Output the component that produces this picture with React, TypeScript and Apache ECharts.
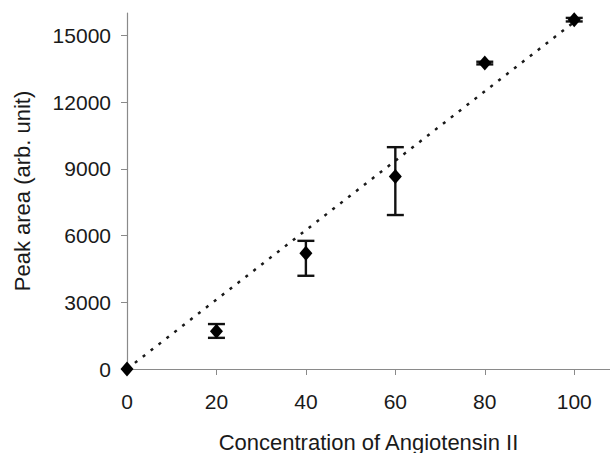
import React, { useEffect, useRef } from "react";
import * as echarts from "echarts";

const concentrations = [0, 20, 40, 60, 80, 100];
const peakAreas = [0, 1700, 5200, 8650, 13750, 15700];
const errLow = [0, 1400, 4190, 6920, 13690, 15620];
const errHigh = [0, 2020, 5760, 9970, 13810, 15780];
const trendX = [0, 100];
const trendY = [0, 15600];
const xTicks = [0, 20, 40, 60, 80, 100];
const yTicks = [0, 3000, 6000, 9000, 12000, 15000];

const FONT = "'Liberation Sans', Arial, sans-serif";

export default function App() {
  const ref = useRef<HTMLDivElement>(null);
  useEffect(() => {
    if (!ref.current) return;
    const chart = echarts.init(ref.current, undefined, { renderer: "svg" });
    const errData = concentrations
      .map((x, i) => [x, errLow[i], errHigh[i]])
      .filter((d) => d[2] - d[1] > 0);
    chart.setOption({
      animation: false,
      backgroundColor: "#ffffff",
      grid: {
        left: 127,
        right: 0,
        top: 13,
        bottom: 84,
        containLabel: false,
        outerBoundsMode: "none",
      },
      xAxis: {
        type: "value",
        min: 0,
        max: 108,
        name: "Concentration of Angiotensin II",
        nameLocation: "middle",
        nameGap: 62,
        nameTextStyle: { fontFamily: FONT, fontSize: 22, color: "#1a1a1a" },
        axisLine: { show: true, lineStyle: { color: "#8a8a8a", width: 1.2 } },
        axisTick: { show: true, length: 6, customValues: xTicks, lineStyle: { color: "#8a8a8a" } },
        axisLabel: {
          customValues: xTicks,
          margin: 22,
          fontFamily: FONT,
          fontSize: 21,
          color: "#1a1a1a",
          formatter: (v: number) => String(v),
        },
        splitLine: { show: false },
      },
      yAxis: {
        type: "value",
        min: 0,
        max: 16000,
        name: "Peak area (arb. unit)",
        nameLocation: "middle",
        nameGap: 94,
        nameTextStyle: { fontFamily: FONT, fontSize: 22, color: "#1a1a1a" },
        axisLine: { show: true, lineStyle: { color: "#8a8a8a", width: 1.2 } },
        axisTick: { show: true, length: 6, customValues: yTicks, lineStyle: { color: "#8a8a8a" } },
        axisLabel: {
          customValues: yTicks,
          margin: 16,
          fontFamily: FONT,
          fontSize: 21,
          color: "#1a1a1a",
          formatter: (v: number) => String(v),
        },
        splitLine: { show: false },
      },
      series: [
        {
          type: "line",
          data: trendX.map((x, i) => [x, trendY[i]]),
          symbol: "none",
          lineStyle: { color: "#1a1a1a", width: 2.5, type: [3, 7] },
          z: 1,
        },
        {
          type: "custom",
          data: errData,
          encode: { x: 0, y: [1, 2] },
          z: 2,
          renderItem: (params: any, api: any) => {
            const x = api.value(0);
            const lo = api.coord([x, api.value(1)]);
            const hi = api.coord([x, api.value(2)]);
            const w = 8.5;
            const style = { stroke: "#111111", lineWidth: 2.4 };
            return {
              type: "group",
              children: [
                { type: "line", shape: { x1: lo[0], y1: lo[1], x2: hi[0], y2: hi[1] }, style },
                { type: "line", shape: { x1: lo[0] - w, y1: lo[1], x2: lo[0] + w, y2: lo[1] }, style },
                { type: "line", shape: { x1: hi[0] - w, y1: hi[1], x2: hi[0] + w, y2: hi[1] }, style },
              ],
            };
          },
        },
        {
          type: "scatter",
          data: concentrations.map((x, i) => [x, peakAreas[i]]),
          symbol: "diamond",
          symbolSize: [13, 15],
          itemStyle: { color: "#000000", opacity: 1 },
          clip: false,
          z: 3,
        },
      ],
    });
    return () => chart.dispose();
  }, []);
  return (
    <div
      ref={ref}
      style={{ position: "fixed", left: 0, top: 0, width: 610, height: 453, background: "#fff" }}
    />
  );
}
